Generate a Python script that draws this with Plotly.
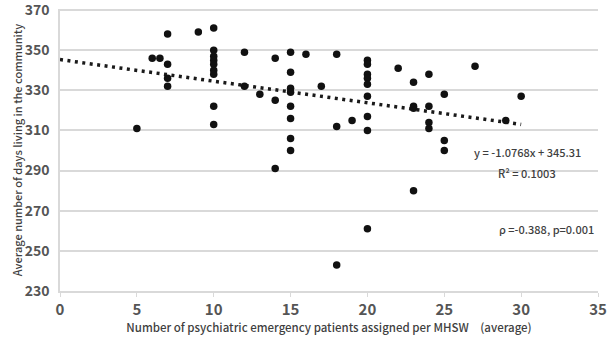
import plotly.graph_objects as go

# Data
x_vals = [5, 6, 6.5,
          7, 7, 7, 7,
          9,
          10, 10, 10, 10, 10, 10, 10, 10, 10,
          12, 12,
          13,
          14, 14, 14,
          15, 15, 15, 15, 15, 15, 15, 15,
          16, 17,
          18, 18, 18,
          19,
          20, 20, 20, 20, 20, 20, 20, 20, 20,
          22,
          23, 23, 23, 23,
          24, 24, 24, 24,
          25, 25, 25,
          27, 29, 30]
y_vals = [311, 346, 346,
          358, 343, 336, 332,
          359,
          361, 350, 347, 345, 343, 340, 338, 322, 313,
          349, 332,
          328,
          346, 325, 291,
          349, 339, 331, 322, 316, 306, 300, 329,
          348, 332,
          348, 312, 243,
          315,
          345, 343, 338, 336, 333, 327, 317, 310, 261,
          341,
          334, 322, 321, 280,
          338, 322, 314, 311,
          328, 305, 300,
          342, 315, 327]

slope = -1.0768
intercept = 345.31
trend_x = [0, 30]
trend_y = [intercept + slope * v for v in trend_x]

x_ticks = [0, 5, 10, 15, 20, 25, 30, 35]
y_ticks = [230, 250, 270, 290, 310, 330, 350, 370]

FONT = "Noto Sans CJK JP"
TICK_COLOR = "#555555"
TEXT_COLOR = "#3f3f3f"
GRID_COLOR = "#d9d9d9"

fig = go.Figure()
fig.add_trace(go.Scatter(
    x=trend_x, y=trend_y, mode="lines",
    line=dict(color="#1a1a1a", width=3.5, dash="3px,4.5px"),
    hoverinfo="skip", showlegend=False))
fig.add_trace(go.Scatter(
    x=x_vals, y=y_vals, mode="markers",
    marker=dict(color="#111111", size=7.5, line=dict(width=0)),
    showlegend=False))

# top gridline (plotly drops the gridline at the axis end)
fig.add_shape(type="line", xref="paper", x0=0, x1=1, yref="y", y0=y_ticks[-1], y1=y_ticks[-1],
              line=dict(color=GRID_COLOR, width=1.8), layer="above")

ann_font = dict(family=FONT, size=11, color=TEXT_COLOR, weight=500)
fig.add_annotation(x=30.4, y=299.5, text="y = -1.0768x + 345.31", showarrow=False,
                   font=ann_font, xanchor="center", yanchor="middle")
fig.add_annotation(x=30.4, y=289, text="R² = 0.1003", showarrow=False,
                   font=ann_font, xanchor="center", yanchor="middle")
fig.add_annotation(x=34.85, y=261, text="ρ =-0.388, p=0.001", showarrow=False,
                   font=ann_font, xanchor="right", yanchor="middle")

fig.update_layout(
    width=616, height=343,
    margin=dict(l=60, r=18, t=9, b=52),
    paper_bgcolor="white", plot_bgcolor="white",
    font=dict(family=FONT, color=TICK_COLOR),
    xaxis=dict(
        range=[0, 35], tickvals=x_ticks, ticktext=[str(v) for v in x_ticks],
        showgrid=False, zeroline=False, automargin=False,
        showline=True, linecolor=GRID_COLOR, linewidth=1.5,
        ticks="outside", ticklen=4, tickcolor=GRID_COLOR,
        ticklabeloverflow="allow",
        tickfont=dict(family=FONT, size=15, color=TICK_COLOR, weight=600),
        title=dict(text="Number of psychiatric emergency patients assigned per MHSW\u3000(average)",
                   font=dict(family=FONT, size=11.5, color=TEXT_COLOR, weight=500), standoff=2),
    ),
    yaxis=dict(
        range=[230, 370.5], tickvals=y_ticks, ticktext=[str(v) for v in y_ticks],
        showgrid=True, gridcolor=GRID_COLOR, gridwidth=1.8, zeroline=False, automargin=False,
        showline=True, linecolor=GRID_COLOR, linewidth=1.5,
        ticks="", ticklabelstandoff=6, ticklabeloverflow="allow",
        tickfont=dict(family=FONT, size=14, color=TICK_COLOR, weight=600),
        title=dict(text="Average number of days living in the community",
                   font=dict(family=FONT, size=11, color=TEXT_COLOR, weight=500), standoff=0),
    ),
)

fig.write_html("out.html", config={"displayModeBar": False},
               post_script="document.body.style.margin='0';document.body.style.overflow='hidden';")
